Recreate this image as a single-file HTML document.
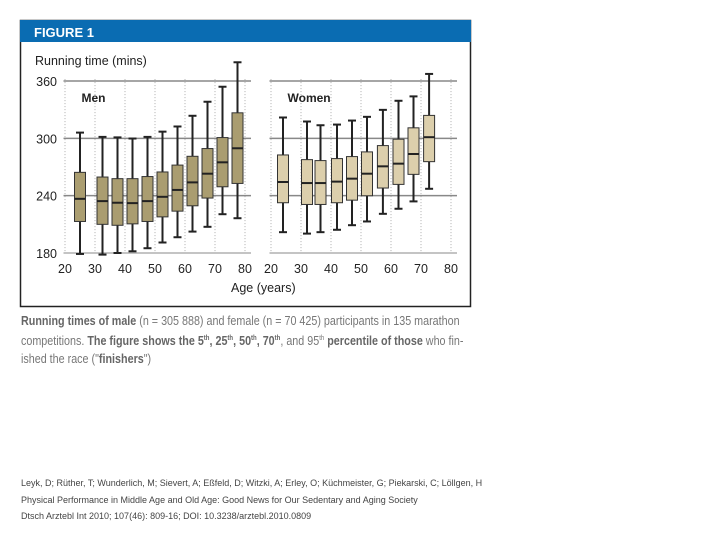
<!DOCTYPE html>
<html><head><meta charset="utf-8"><style>
body{margin:0;background:#fff;width:720px;height:540px;overflow:hidden;position:relative;font-family:"Liberation Sans",sans-serif}
.cap{position:absolute;left:21px;top:312px;font-size:12.5px;line-height:18px;color:#777;white-space:nowrap;transform:scaleX(0.86);transform-origin:left}
.cap b{color:#666}
.ref{position:absolute;left:21px;top:475px;font-size:9px;line-height:16.5px;color:#444;white-space:nowrap}
</style></head><body>
<svg id="chart" width="720" height="310" style="position:absolute;left:0;top:0" xmlns="http://www.w3.org/2000/svg" font-family="Liberation Sans, sans-serif"></svg>
<div class="cap"><b>Running times of male</b> (n = 305 888) and female (n = 70 425) participants in 135 marathon<br>competitions. <b>The figure shows the 5<sup style="font-size:7px">th</sup>, 25<sup style="font-size:7px">th</sup>, 50<sup style="font-size:7px">th</sup>, 70<sup style="font-size:7px">th</sup></b>, and 95<sup style="font-size:7px">th</sup> <b>percentile of those</b> who fin-<br>ished the race ("<b>finishers</b>")</div>
<div class="ref">Leyk, D; Rüther, T; Wunderlich, M; Sievert, A; Eßfeld, D; Witzki, A; Erley, O; Küchmeister, G; Piekarski, C; Löllgen, H<br>Physical Performance in Middle Age and Old Age: Good News for Our Sedentary and Aging Society<br>Dtsch Arztebl Int 2010; 107(46): 809-16; DOI: 10.3238/arztebl.2010.0809</div>
<script>
const yTicks=[180,240,300,360];
const xTicks=[20,30,40,50,60,70,80];
const menAges=[25,32.5,37.5,42.5,47.5,52.5,57.5,62.5,67.5,72.5,77.5];
const menP95=[306,301.5,301,299.8,301.5,307,312.4,323.6,338.3,354,379.6];
const menP75=[264.4,259.5,257.8,257.8,260,264.8,272,281.2,289.3,300.8,326.7];
const menP50=[236.7,234.3,232.6,232.2,234.3,238.8,246,253.9,263,274.9,289.6];
const menP25=[213,210,209,210.5,213,217.8,223.8,229.4,237.5,249.3,252.8];
const menP5=[179,178.3,180,181.8,185,191,196.5,202.4,207.4,220.6,216.4];
const womenAges=[24,32,36.5,42,47,52,57.3,62.5,67.5,72.7];
const womenP95=[321.8,317.6,313.7,314.4,318.6,322.5,329.8,339.3,343.9,367.4];
const womenP75=[282.6,277.7,276.7,278.8,280.9,285.8,292.4,299.1,311,324];
const womenP50=[254.3,253.2,253.2,254.7,257.8,263,270.7,273.5,283.6,301.2];
const womenP25=[232.6,230.8,230.8,232.6,235.3,239.9,248,251.8,262.3,275.6];
const womenP5=[201.8,200.3,201.8,204.3,209.1,213,221,226.3,234,247.2];

const svg=document.getElementById('chart');const NS='http://www.w3.org/2000/svg';
function mk(t,a,p){const e=document.createElementNS(NS,t);for(const k in a)e.setAttribute(k,a[k]);(p||svg).appendChild(e);return e;}
const y=v=>253-(v-180)*(172/180);
const fr=mk('rect',{x:20.5,y:20.5,width:450,height:286,fill:'#fff',stroke:'#222','stroke-width':1.5});

const hd=mk('rect',{x:20,y:20,width:451,height:22,fill:'#0a6cb2'});

const ht=mk('text',{x:34,y:37,fill:'#fff','font-size':13,'font-weight':'bold'});ht.textContent='FIGURE 1';

const yt=mk('text',{x:35,y:65,'font-size':12.5,fill:'#222'});yt.textContent='Running time (mins)';

const xt=mk('text',{x:231,y:292,'font-size':12.5,fill:'#222'});xt.textContent='Age (years)';

yTicks.forEach(v=>{const t=mk('text',{x:57,y:y(v)+5,'font-size':12.5,'text-anchor':'end',fill:'#222'});t.textContent=v;
});
function panel(x0,ages,p95,p75,p50,p25,p5,fill,label,name){
 const x=a=>x0+(a-20)*3;
 yTicks.forEach(v=>{const l=mk('line',{x1:x(19.5),x2:x(82),y1:y(v),y2:y(v),stroke:'#888','stroke-width':v==180?1:1.5});
 });
 xTicks.forEach(a=>{const l=mk('line',{x1:x(a),x2:x(a),y1:y(362),y2:y(180),stroke:'#999','stroke-width':0.8,'stroke-dasharray':'1,2'});
 
 const t=mk('text',{x:x(a),y:273,'font-size':12.5,'text-anchor':'middle',fill:'#222'});t.textContent=a;
 });
 const lb=mk('text',{x:x(25.5),y:102,'font-size':12,'font-weight':'bold',fill:'#222'});lb.textContent=label;
 
 ages.forEach((a,i)=>{const cx=x(a);const g=mk('g',{});
 
 mk('line',{x1:cx,x2:cx,y1:y(p95[i]),y2:y(p5[i]),stroke:'#222','stroke-width':2},g);
 mk('line',{x1:cx-4,x2:cx+4,y1:y(p95[i]),y2:y(p95[i]),stroke:'#222','stroke-width':2},g);
 mk('line',{x1:cx-4,x2:cx+4,y1:y(p5[i]),y2:y(p5[i]),stroke:'#222','stroke-width':2},g);
 mk('rect',{x:cx-5.5,y:y(p75[i]),width:11,height:y(p25[i])-y(p75[i]),fill:fill,stroke:'#333','stroke-width':1},g);
 mk('line',{x1:cx-5.5,x2:cx+5.5,y1:y(p50[i]),y2:y(p50[i]),stroke:'#222','stroke-width':2},g);});
}
panel(65,menAges,menP95,menP75,menP50,menP25,menP5,'#aa9d70','Men','men');
panel(271,womenAges,womenP95,womenP75,womenP50,womenP25,womenP5,'#dccfac','Women','women');
</script>
</body></html>
